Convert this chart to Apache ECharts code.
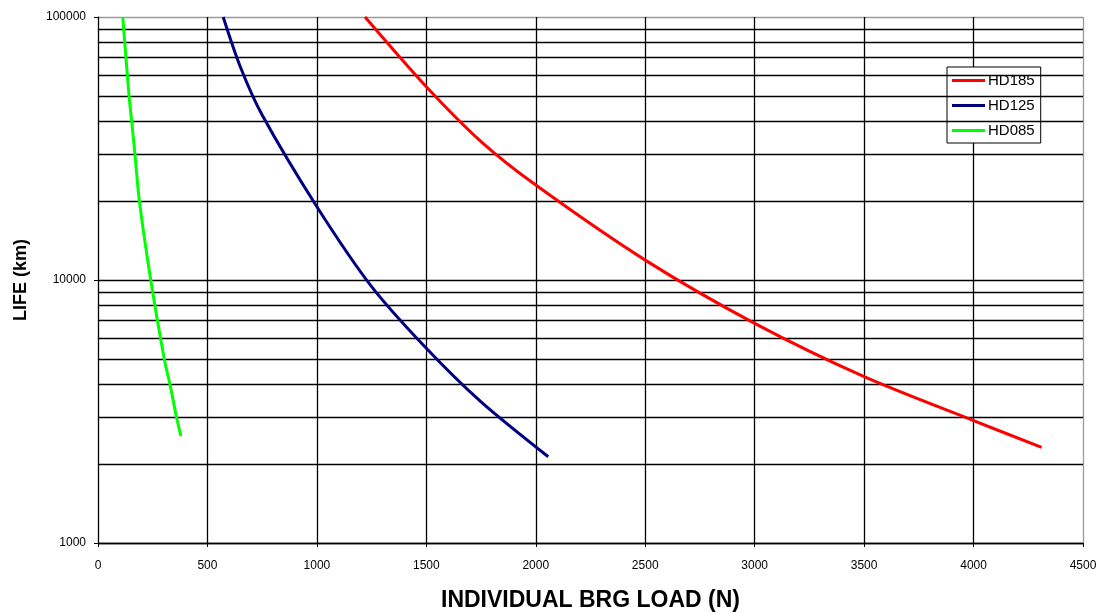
<!DOCTYPE html>
<html>
<head>
<meta charset="utf-8">
<script src="https://cdn.jsdelivr.net/npm/echarts@6/dist/echarts.min.js"></script>
<style>
  html, body { margin: 0; padding: 0; background: #fff; }
  #chart { width: 1098px; height: 613px; }
</style>
</head>
<body>
<div id="chart"></div>
<script>
// load (N) vs life (km)
const hd185 = [[1220, 100000], [1500, 54300], [1750, 33600], [2000, 22960], [2500, 11900], [3000, 6840], [3500, 4290], [4000, 2920], [4311, 2310]];
const hd125 = [[572, 100000], [650, 64700], [750, 42400], [1000, 19000], [1250, 9440], [1500, 5500], [1750, 3440], [2057, 2128]];
const hd085 = [[113, 100000], [142, 50000], [154, 40000], [169, 30000], [189, 20000], [241, 10000], [303, 5000], [329, 4000], [359, 3000], [379, 2550]];
// minor horizontal grid lines
const minorLines = [2000, 3000, 4000, 5000, 6000, 7000, 8000, 9000, 20000, 30000, 40000, 50000, 60000, 70000, 80000, 90000];

const font = "Liberation Sans, Arial, sans-serif";
let chart = echarts.init(document.getElementById("chart"));

let xSplit = [];
for (let i = 0; i < 10; i++) xSplit.push(i === 9 ? "#9a9a9a" : "#000");

function makeLine(name, data, color) {
  return {
    name: name,
    type: "line",
    data: data,
    smooth: 0.3,
    symbol: "none",
    z: 5,
    lineStyle: { color: color, width: 3 },
    itemStyle: { color: color },
  };
}

let option = {
  animation: false,
  backgroundColor: "#fff",
  grid: { left: 98, right: 15, top: 17, bottom: 70, containLabel: false, outerBoundsMode: "none" },
  legend: {
    data: ["HD185", "HD125", "HD085"],
    orient: "vertical",
    left: 947,
    top: 67,
    icon: "rect",
    itemWidth: 33,
    itemHeight: 3,
    itemGap: 10,
    padding: [6, 6, 5, 5],
    backgroundColor: "#fff",
    borderColor: "#000",
    borderWidth: 1,
    borderRadius: 0,
    textStyle: { fontFamily: font, fontSize: 15, color: "#000", padding: [0, 0, 0, -2] },
  },
  xAxis: {
    type: "value",
    min: 0,
    max: 4500,
    interval: 500,
    name: "INDIVIDUAL BRG LOAD (N)",
    nameLocation: "middle",
    nameGap: 46,
    nameTextStyle: { fontFamily: font, fontSize: 23, fontWeight: "bold", color: "#000" },
    axisLine: { lineStyle: { color: "#000", width: 1 } },
    axisTick: { show: true, length: 4, lineStyle: { color: "#000" } },
    axisLabel: { fontFamily: font, fontSize: 12, color: "#000", margin: 17, formatter: (v) => String(v) },
    splitLine: { show: true, lineStyle: { color: xSplit, width: 1.3 } },
  },
  yAxis: {
    type: "log",
    logBase: 10,
    min: 1000,
    max: 100000,
    name: "LIFE (km)",
    nameLocation: "middle",
    nameGap: 68,
    nameTextStyle: { fontFamily: font, fontSize: 18, fontWeight: "bold", color: "#000" },
    axisLine: { show: true, lineStyle: { color: "#000", width: 1 } },
    axisTick: { show: true, length: 4, lineStyle: { color: "#000" } },
    axisLabel: { fontFamily: font, fontSize: 12, color: "#000", margin: 12, formatter: (v) => String(Math.round(v)) },
    splitLine: { show: true, lineStyle: { color: ["#000", "#000", "#000", "#9a9a9a"], width: 1.3 } },
  },
  series: [
    {
      name: "grid",
      type: "line",
      data: [],
      silent: true,
      z: 1,
      markLine: {
        silent: true,
        symbol: "none",
        label: { show: false },
        lineStyle: { color: "#000", type: "solid", width: 1.3 },
        data: minorLines.map((v) => ({ yAxis: v })),
      },
    },
    makeLine("HD185", hd185, "#ff0000"),
    makeLine("HD125", hd125, "#000080"),
    makeLine("HD085", hd085, "#00ff00"),
  ],
};

chart.setOption(option, true);
</script>
</body>
</html>
